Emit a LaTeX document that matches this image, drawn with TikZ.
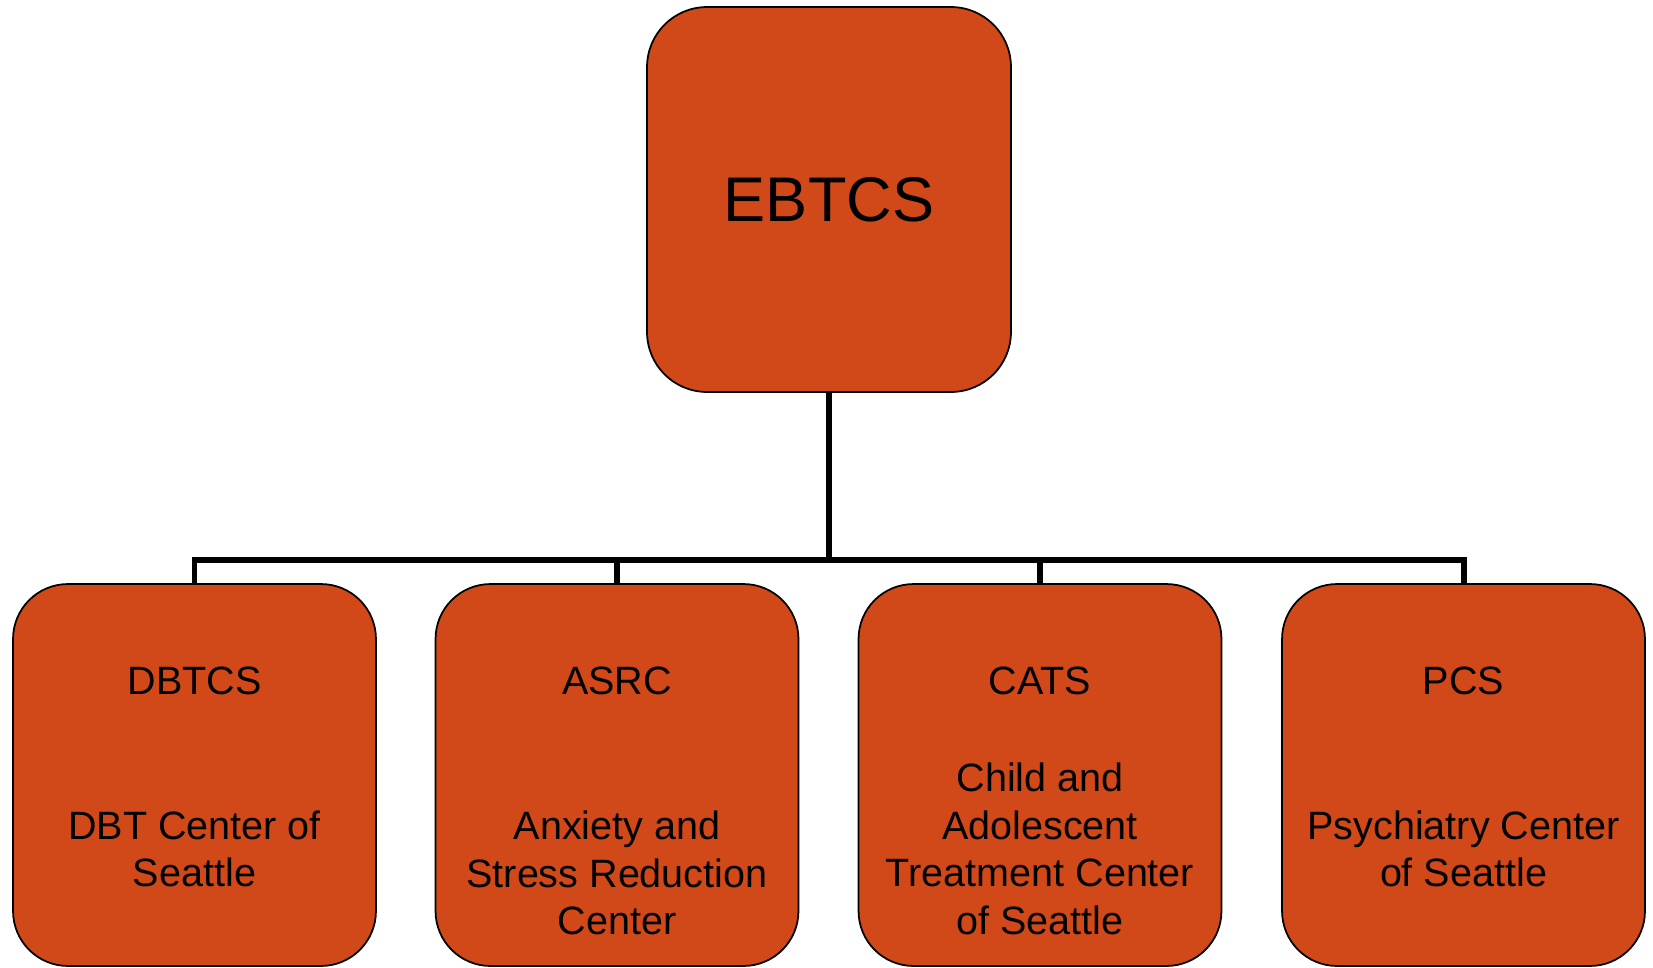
\documentclass[tikz,border=0pt]{standalone}
\usepackage{fontspec}
\setmainfont{Liberation Sans}
\usepackage{xcolor}
\usepackage{tikz}

\definecolor{brick}{RGB}{209,73,24}

\begin{document}
\begin{tikzpicture}[x=0.02cm, y=-0.02cm,
    box/.style={draw, fill=brick, line width=1pt, rounded corners=1.1cm, minimum width=7.26cm, minimum height=7.64cm},
    title/.style={font=\fontsize{22.5}{27.1}\selectfont},
    desc/.style={font=\fontsize{22.5}{27.1}\selectfont, align=center},
    wire/.style={line width=3.4pt}]
    \useasboundingbox (0,0) rectangle (1653,967);

    \node[box, rounded corners=1.2cm, minimum width=7.28cm, minimum height=7.7cm,
          font=\fontsize{35.9}{43}\selectfont] (ebtcs) at (829,199.5) {EBTCS};

    \node[box] (dbtcs) at (194.5,775) {};
    \node[box] (asrc) at (617,775) {};
    \node[box] (cats) at (1040,775) {};
    \node[box] (pcs) at (1463.5,775) {};

    \node[title] (dbtcsT) at (194.5,681) {DBTCS};
    \node[title] (asrcT) at (617,681) {ASRC};
    \node[title] (catsT) at (1040,681) {CATS};
    \node[title] (pcsT) at (1463.5,681) {PCS};

    \node[desc] (dbtcsD) at (194.5,849) {DBT Center of\\Seattle};
    \node[desc] (asrcD) at (617,873) {Anxiety and\\Stress Reduction\\Center};
    \node[desc] (catsD) at (1040,849) {Child and\\Adolescent\\Treatment Center\\of Seattle};
    \node[desc] (pcsD) at (1463.5,849) {Psychiatry Center\\of Seattle};

    \coordinate (bus) at (829,560);
    \draw[wire] (ebtcs.south) -- (bus);
    \foreach \n in {dbtcs,asrc,cats,pcs}
        \draw[wire] (bus) -| (\n.north);
\end{tikzpicture}
\end{document}
